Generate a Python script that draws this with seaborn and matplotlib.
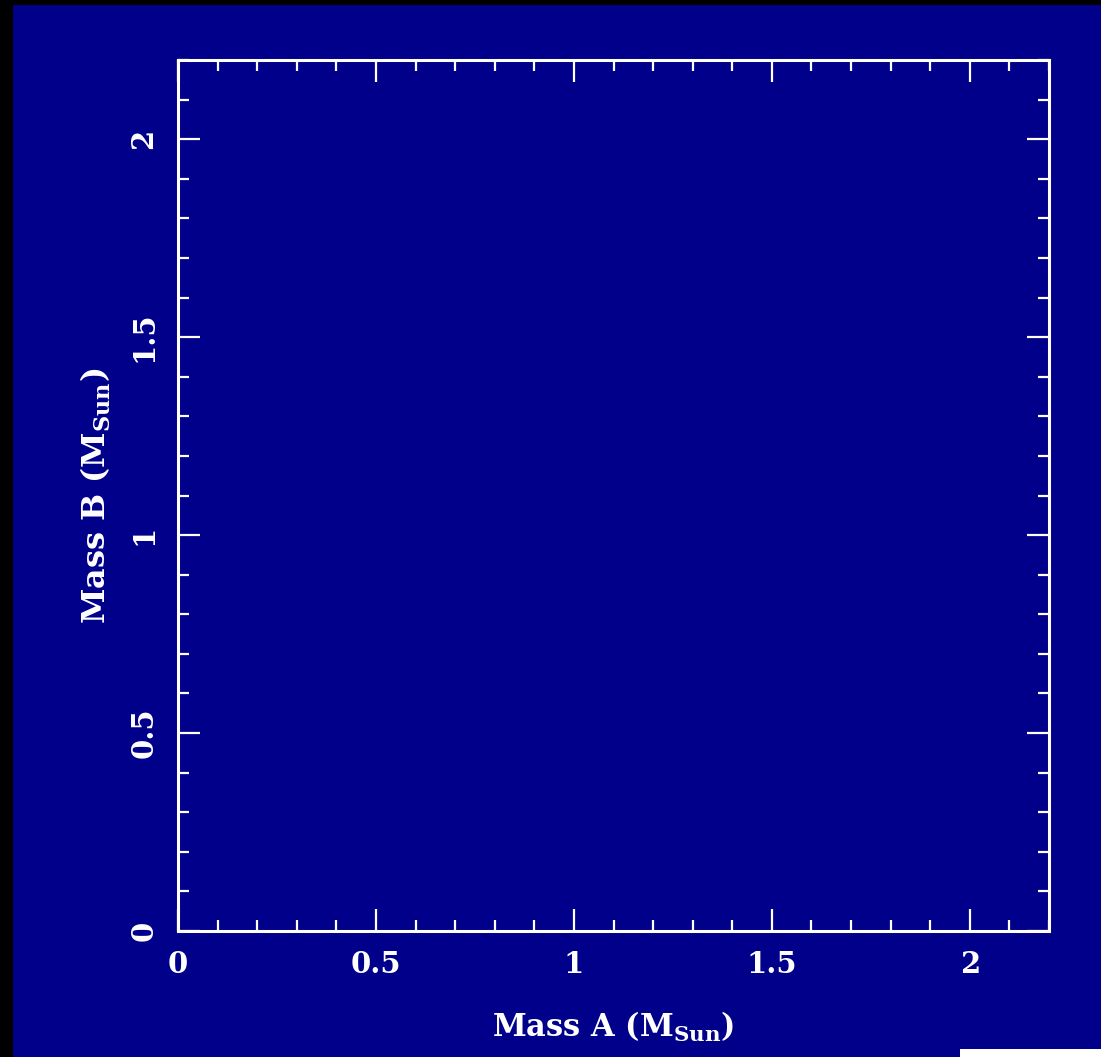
import matplotlib
matplotlib.use("Agg")
import matplotlib.pyplot as plt
import seaborn as sns
import numpy as np
from matplotlib.patches import Rectangle
from matplotlib.ticker import MultipleLocator

# Data (empty plot: no points)
mass_a = []
mass_b = []
x_ticks = [0, 0.5, 1, 1.5, 2]
x_tick_labels = ["0", "0.5", "1", "1.5", "2"]
y_ticks = [0, 0.5, 1, 1.5, 2]
y_tick_labels = ["0", "0.5", "1", "1.5", "2"]

sns.set_theme(style="white")
plt.rcParams['font.family'] = ['DejaVu Serif']

NAVY = "#00008a"
fig = plt.figure(figsize=(11.01, 10.57), dpi=100)
fig.patch.set_facecolor("black")
W, H = 1101, 1057
fig.patches.append(Rectangle((13 / W, 0), 1 - 13 / W, 1 - 5 / H, transform=fig.transFigure,
                             facecolor=NAVY, edgecolor="none", zorder=-10))
fig.patches.append(Rectangle((960 / W, 0), 1 - 960 / W, 8 / H, transform=fig.transFigure,
                             facecolor="white", edgecolor="none", zorder=-9))

ax = fig.add_axes([178 / W, 1 - 931 / H, (1049 - 178) / W, (931 - 60) / H])
ax.set_zorder(5)
ax.set_facecolor(NAVY)
sns.scatterplot(x=mass_a, y=mass_b, ax=ax)
ax.set_xlim(0, 2.2)
ax.set_ylim(0, 2.2)

for s in ax.spines.values():
    s.set_color("white")
    s.set_linewidth(2.2)
    s.set_visible(True)

ax.set_xticks(x_ticks)
ax.set_xticklabels(x_tick_labels)
ax.set_yticks(y_ticks)
ax.set_yticklabels(y_tick_labels, rotation=90, va="center")
ax.xaxis.set_minor_locator(MultipleLocator(0.1))
ax.yaxis.set_minor_locator(MultipleLocator(0.1))
ax.tick_params(which="both", direction="in", colors="white", top=True, right=True,
               bottom=True, left=True)
ax.tick_params(which="major", length=16, width=1.6, labelsize=21, pad=14)
ax.tick_params(which="minor", length=8, width=1.6)
for lab in ax.get_xticklabels() + ax.get_yticklabels():
    lab.set_fontweight("bold")
    lab.set_color("white")

ax.set_xlabel("Mass A (M$_{\\mathregular{Sun}}$)", color="white", fontsize=22,
              fontweight="bold", labelpad=22)
ax.set_ylabel("Mass B (M$_{\\mathregular{Sun}}$)", color="white", fontsize=23,
              fontweight="bold", labelpad=12)

fig.savefig("out.png", dpi=100, facecolor=fig.get_facecolor())
